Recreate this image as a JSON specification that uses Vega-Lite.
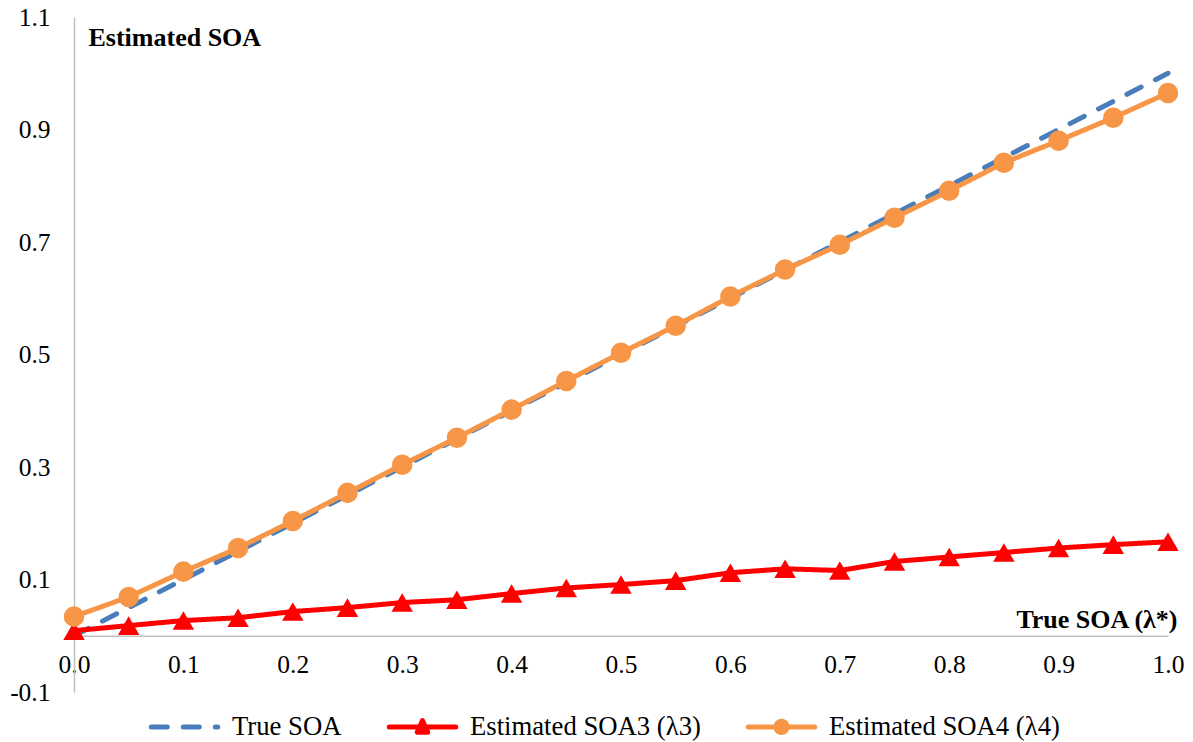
{
  "$schema": "https://vega.github.io/schema/vega-lite/v6.json",
  "width": 1094,
  "height": 675,
  "autosize": "none",
  "padding": {"left": 74, "top": 17, "right": 25, "bottom": 50},
  "background": "white",
  "config": {"view": {"stroke": null}, "font": "Liberation Serif",
    "axis": {"labelFont": "Liberation Serif", "titleFont": "Liberation Serif"},
    "legend": {"labelFont": "Liberation Serif", "labelLimit": 500}},
  "data": {"values": [
    {"x": 0.00, "y": 0.00, "series": "True SOA"},
    {"x": 0.05, "y": 0.05, "series": "True SOA"},
    {"x": 0.10, "y": 0.10, "series": "True SOA"},
    {"x": 0.15, "y": 0.15, "series": "True SOA"},
    {"x": 0.20, "y": 0.20, "series": "True SOA"},
    {"x": 0.25, "y": 0.25, "series": "True SOA"},
    {"x": 0.30, "y": 0.30, "series": "True SOA"},
    {"x": 0.35, "y": 0.35, "series": "True SOA"},
    {"x": 0.40, "y": 0.40, "series": "True SOA"},
    {"x": 0.45, "y": 0.45, "series": "True SOA"},
    {"x": 0.50, "y": 0.50, "series": "True SOA"},
    {"x": 0.55, "y": 0.55, "series": "True SOA"},
    {"x": 0.60, "y": 0.60, "series": "True SOA"},
    {"x": 0.65, "y": 0.65, "series": "True SOA"},
    {"x": 0.70, "y": 0.70, "series": "True SOA"},
    {"x": 0.75, "y": 0.75, "series": "True SOA"},
    {"x": 0.80, "y": 0.80, "series": "True SOA"},
    {"x": 0.85, "y": 0.85, "series": "True SOA"},
    {"x": 0.90, "y": 0.90, "series": "True SOA"},
    {"x": 0.95, "y": 0.95, "series": "True SOA"},
    {"x": 1.00, "y": 1.00, "series": "True SOA"},
    {"x": 0.00, "y": 0.009, "series": "Estimated SOA3 (λ3)"},
    {"x": 0.05, "y": 0.018, "series": "Estimated SOA3 (λ3)"},
    {"x": 0.10, "y": 0.027, "series": "Estimated SOA3 (λ3)"},
    {"x": 0.15, "y": 0.032, "series": "Estimated SOA3 (λ3)"},
    {"x": 0.20, "y": 0.043, "series": "Estimated SOA3 (λ3)"},
    {"x": 0.25, "y": 0.050, "series": "Estimated SOA3 (λ3)"},
    {"x": 0.30, "y": 0.059, "series": "Estimated SOA3 (λ3)"},
    {"x": 0.35, "y": 0.064, "series": "Estimated SOA3 (λ3)"},
    {"x": 0.40, "y": 0.075, "series": "Estimated SOA3 (λ3)"},
    {"x": 0.45, "y": 0.085, "series": "Estimated SOA3 (λ3)"},
    {"x": 0.50, "y": 0.091, "series": "Estimated SOA3 (λ3)"},
    {"x": 0.55, "y": 0.098, "series": "Estimated SOA3 (λ3)"},
    {"x": 0.60, "y": 0.112, "series": "Estimated SOA3 (λ3)"},
    {"x": 0.65, "y": 0.119, "series": "Estimated SOA3 (λ3)"},
    {"x": 0.70, "y": 0.116, "series": "Estimated SOA3 (λ3)"},
    {"x": 0.75, "y": 0.132, "series": "Estimated SOA3 (λ3)"},
    {"x": 0.80, "y": 0.140, "series": "Estimated SOA3 (λ3)"},
    {"x": 0.85, "y": 0.148, "series": "Estimated SOA3 (λ3)"},
    {"x": 0.90, "y": 0.156, "series": "Estimated SOA3 (λ3)"},
    {"x": 0.95, "y": 0.162, "series": "Estimated SOA3 (λ3)"},
    {"x": 1.00, "y": 0.167, "series": "Estimated SOA3 (λ3)"},
    {"x": 0.00, "y": 0.034, "series": "Estimated SOA4 (λ4)"},
    {"x": 0.05, "y": 0.069, "series": "Estimated SOA4 (λ4)"},
    {"x": 0.10, "y": 0.114, "series": "Estimated SOA4 (λ4)"},
    {"x": 0.15, "y": 0.156, "series": "Estimated SOA4 (λ4)"},
    {"x": 0.20, "y": 0.204, "series": "Estimated SOA4 (λ4)"},
    {"x": 0.25, "y": 0.254, "series": "Estimated SOA4 (λ4)"},
    {"x": 0.30, "y": 0.304, "series": "Estimated SOA4 (λ4)"},
    {"x": 0.35, "y": 0.352, "series": "Estimated SOA4 (λ4)"},
    {"x": 0.40, "y": 0.402, "series": "Estimated SOA4 (λ4)"},
    {"x": 0.45, "y": 0.453, "series": "Estimated SOA4 (λ4)"},
    {"x": 0.50, "y": 0.503, "series": "Estimated SOA4 (λ4)"},
    {"x": 0.55, "y": 0.551, "series": "Estimated SOA4 (λ4)"},
    {"x": 0.60, "y": 0.603, "series": "Estimated SOA4 (λ4)"},
    {"x": 0.65, "y": 0.651, "series": "Estimated SOA4 (λ4)"},
    {"x": 0.70, "y": 0.695, "series": "Estimated SOA4 (λ4)"},
    {"x": 0.75, "y": 0.743, "series": "Estimated SOA4 (λ4)"},
    {"x": 0.80, "y": 0.791, "series": "Estimated SOA4 (λ4)"},
    {"x": 0.85, "y": 0.841, "series": "Estimated SOA4 (λ4)"},
    {"x": 0.90, "y": 0.880, "series": "Estimated SOA4 (λ4)"},
    {"x": 0.95, "y": 0.921, "series": "Estimated SOA4 (λ4)"},
    {"x": 1.00, "y": 0.965, "series": "Estimated SOA4 (λ4)"}
  ]},
  "encoding": {
    "x": {"field": "x", "type": "quantitative",
      "scale": {"domain": [0, 1], "nice": false, "zero": false},
      "axis": {"values": [0, 0.1, 0.2, 0.3, 0.4, 0.5, 0.6, 0.7, 0.8, 0.9, 1.0], "format": ".1f",
        "offset": -56.25, "grid": false, "ticks": false, "tickSize": 0,
        "domainColor": "#BFBFBF", "domainWidth": 1.5,
        "labelFont": "Liberation Serif", "labelFontSize": 25.5, "labelColor": "#000000", "labelPadding": 17,
        "labelFlush": false, "labelOverlap": false,
        "title": "True SOA (λ*)", "titleFont": "Liberation Serif", "titleFontSize": 26, "titleFontWeight": "bold",
        "titleColor": "#000000", "titleAlign": "right", "titleAnchor": null, "titleX": 1103, "titleY": -8, "titleBaseline": "alphabetic"}},
    "y": {"field": "y", "type": "quantitative",
      "scale": {"domain": [-0.1, 1.1], "nice": false, "zero": false},
      "axis": {"values": [-0.1, 0.1, 0.3, 0.5, 0.7, 0.9, 1.1],
        "labelExpr": "datum.value < 0 ? '-' + format(-datum.value, '.1f') : format(datum.value, '.1f')",
        "grid": false, "ticks": false, "tickSize": 0,
        "domainColor": "#BFBFBF", "domainWidth": 1.5,
        "labelFont": "Liberation Serif", "labelFontSize": 25.5, "labelColor": "#000000", "labelPadding": 24,
        "labelFlush": false, "labelOverlap": false,
        "title": "Estimated SOA", "titleFont": "Liberation Serif", "titleFontSize": 26, "titleFontWeight": "bold",
        "titleColor": "#000000", "titleAngle": 0, "titleAlign": "left", "titleAnchor": null, "titleX": 14, "titleY": 28, "titleBaseline": "alphabetic"}}
  },
  "layer": [
    {
      "mark": {"type": "line", "strokeWidth": 5, "strokeCap": "round", "strokeJoin": "round"},
      "encoding": {
        "color": {"field": "series", "type": "nominal",
          "scale": {"domain": ["True SOA", "Estimated SOA3 (λ3)", "Estimated SOA4 (λ4)"], "range": ["#4A7EBB", "#FF0000", "#F79646"]},
          "legend": {"title": null, "orient": "none", "direction": "horizontal", "legendX": 73, "legendY": 672,
            "symbolSize": 4900, "symbolStrokeWidth": 5, "labelFont": "Liberation Serif", "labelFontSize": 26.7,
            "labelColor": "#000000", "labelOffset": 10, "columnPadding": 43, "labelLimit": 500,
            "encode": {"symbols": {"update": {
              "shape": {"signal": "datum.value == 'True SOA' ? 'M-0.95,0H0.95' : (datum.value == 'Estimated SOA3 (λ3)' ? 'M-0.95,0H0.95M-0.15,0.15L0.15,0.15L0,-0.18Z' : 'M-0.95,0H0.95M0.16,0A0.16,0.16,0,1,1,-0.16,0A0.16,0.16,0,1,1,0.16,0Z')"},
              "fill": {"signal": "datum.value == 'True SOA' ? 'transparent' : (datum.value == 'Estimated SOA3 (λ3)' ? '#FF0000' : '#F79646')"},
              "stroke": {"signal": "datum.value == 'True SOA' ? '#4A7EBB' : (datum.value == 'Estimated SOA3 (λ3)' ? '#FF0000' : '#F79646')"},
              "strokeDash": {"signal": "datum.value == 'True SOA' ? [20, 22] : [1, 0]"},
              "strokeWidth": {"value": 5},
              "strokeCap": {"value": "round"},
              "strokeJoin": {"value": "round"},
              "opacity": {"value": 1}
            }}}}},
        "strokeDash": {"field": "series", "type": "nominal",
          "scale": {"domain": ["True SOA", "Estimated SOA3 (λ3)", "Estimated SOA4 (λ4)"], "range": [[16, 16], [1, 0], [1, 0]]},
          "legend": null}
      }
    },
    {
      "transform": [{"filter": "datum.series != 'True SOA'"}],
      "mark": {"type": "point", "filled": true, "opacity": 1, "strokeWidth": 0},
      "encoding": {
        "shape": {"field": "series", "type": "nominal",
          "scale": {"domain": ["Estimated SOA3 (λ3)", "Estimated SOA4 (λ4)"], "range": ["triangle-up", "circle"]},
          "legend": null},
        "fill": {"field": "series", "type": "nominal",
          "scale": {"domain": ["Estimated SOA3 (λ3)", "Estimated SOA4 (λ4)"], "range": ["#FF0000", "#F79646"]},
          "legend": null},
        "size": {"field": "series", "type": "nominal",
          "scale": {"domain": ["Estimated SOA3 (λ3)", "Estimated SOA4 (λ4)"], "range": [460, 420]},
          "legend": null}
      }
    }
  ]
}
